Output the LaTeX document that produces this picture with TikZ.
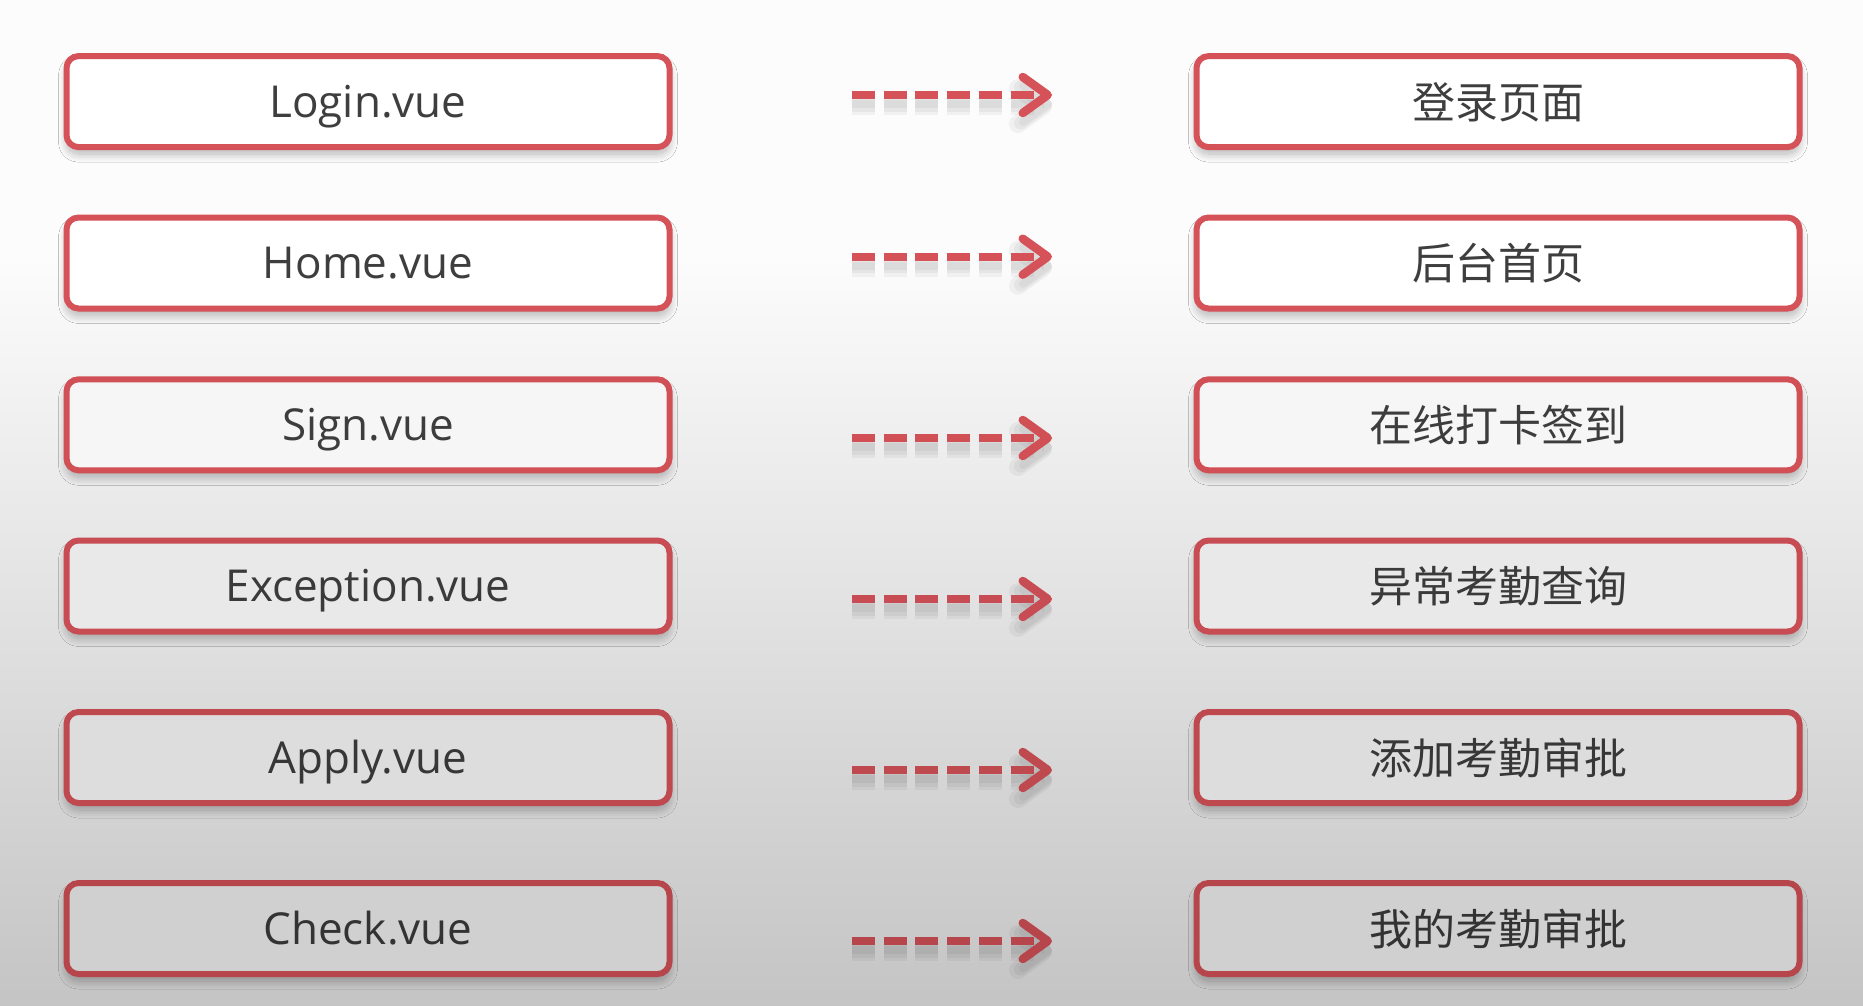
\documentclass[tikz,border=0pt]{standalone}
\usepackage{fontspec}
\setmainfont{Open Sans}
\newfontfamily\cjk{Noto Sans CJK SC}
\usetikzlibrary{shadows.blur,arrows.meta}
\definecolor{bred}{RGB}{214,82,89}
\definecolor{txt}{RGB}{62,62,62}
\begin{document}
\begin{tikzpicture}[x=1pt,y=-1pt,
  box/.style={line width=6pt, rounded corners=12pt, minimum width=603pt,
    minimum height=91pt, inner sep=0pt,
    blur shadow={shadow xshift=0pt, shadow yshift=-7pt, shadow blur radius=8pt, shadow blur steps=14, shadow opacity=28}},
  lat/.style={font=\fontsize{44}{50}\selectfont, text height=31pt, text depth=0pt},
  han/.style={font=\cjk\fontsize{43}{50}\selectfont, text height=33pt, text depth=0pt},
  arr/.style={line width=8pt, dash pattern=on 23pt off 8.7pt,
    -{Straight Barb[length=25pt, width=36pt, line width=8.5pt, round]}},
  arrshadow/.style={arr, draw=black, opacity=0.045, line width=#1,
    -{Straight Barb[length=25pt, width=36pt, line width=#1, round]}}
]
\useasboundingbox (0,0) rectangle (1863,1005);
\fill[white!99!black] (0,0) rectangle (1863,250);
\shade[top color=white!99!black, bottom color=white!77!black] (0,250) rectangle (1863,1005);
\foreach \i/\y/\ay/\l/\r/\f/\c/\t in {
  1/101.6/95/Login.vue/登录页面/100/100/100,
  2/263/256.7/Home.vue/后台首页/100/100/100,
  3/424.8/438/Sign.vue/在线打卡签到/96.5/97/98,
  4/586/599/Exception.vue/异常考勤查询/91.5/93/94,
  5/757.5/770/Apply.vue/添加考勤审批/86.5/89/88,
  6/928.5/941/Check.vue/我的考勤审批/81.5/85/82}{
  \node[box, lat, draw=bred!\c!black, fill=white!\f!black, text=txt!\t!black] (l\i) at (368,\y) {\l};
  \node[box, han, draw=bred!\c!black, fill=white!\f!black, text=txt!\t!black] (r\i) at (1498,\y) {\r};
  \coordinate (as\i) at (852,\ay);
  \coordinate (ae\i) at (1052,\ay);
  \draw[arrshadow=18pt, transform canvas={yshift=-11pt}] (as\i) -- (ae\i);
  \draw[arrshadow=13pt, transform canvas={yshift=-10pt}] (as\i) -- (ae\i);
  \draw[arrshadow=8pt, transform canvas={yshift=-9pt}] (as\i) -- (ae\i);
  \draw[arr, draw=bred!\c!black] (as\i) -- (ae\i);
}
\end{tikzpicture}
\end{document}
